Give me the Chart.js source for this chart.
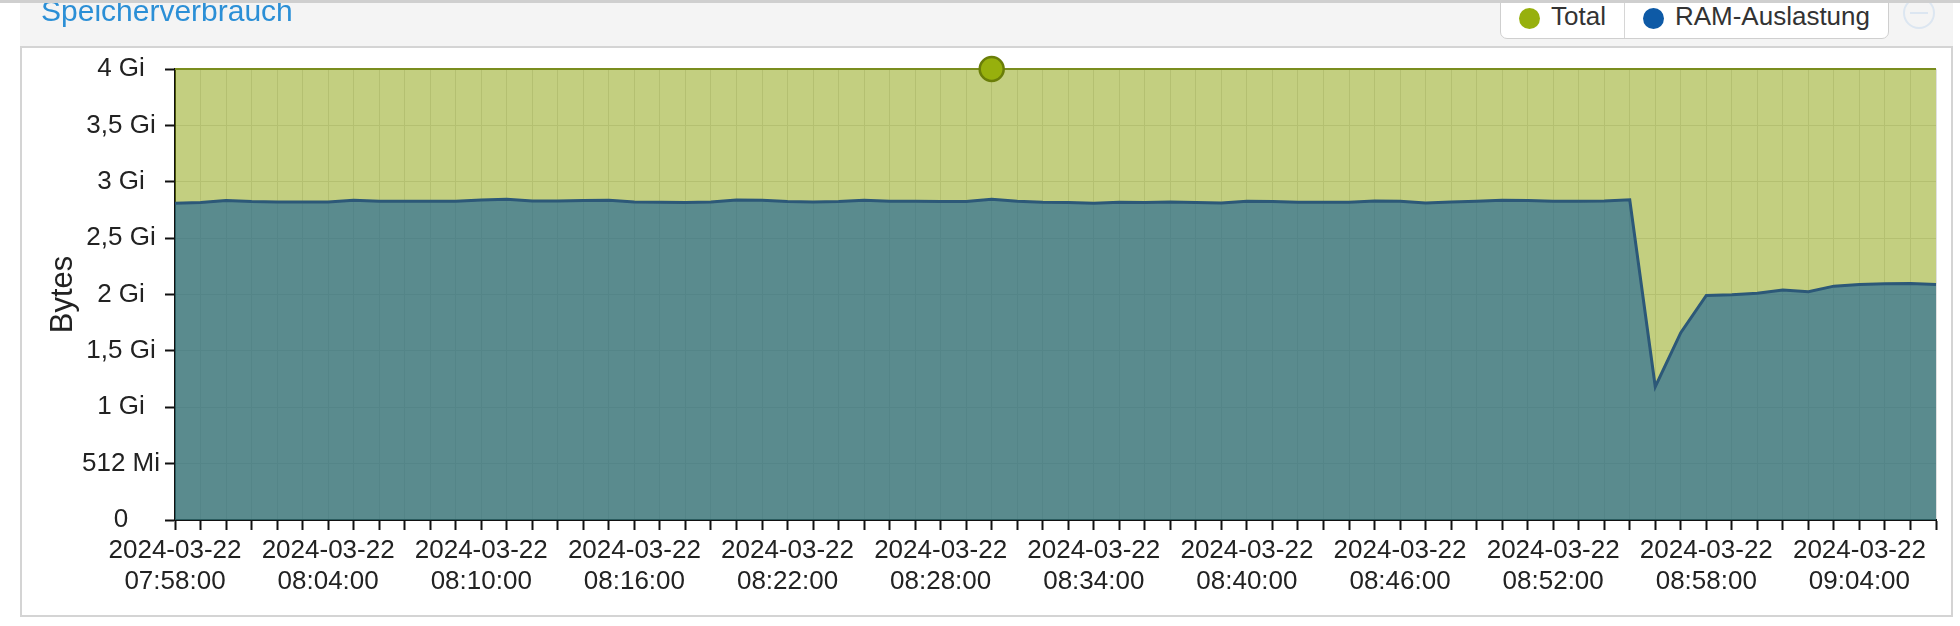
<!DOCTYPE html>
<html>
<head>
<meta charset="utf-8">
<script src="https://cdn.jsdelivr.net/npm/chart.js@4.4.1/dist/chart.umd.min.js"></script>
<style>
  html, body { margin: 0; padding: 0; width: 1960px; height: 626px; overflow: hidden; background: #fff; font-family: "Liberation Sans", Arial, sans-serif; }
  #topline { position: absolute; left: 0; top: 0; width: 1960px; height: 3px; background: #cfcfcf; z-index: 3; }
  #header { position: absolute; left: 20px; top: 3px; width: 1933px; height: 44px; background: #f4f4f4; }
  #title { position: absolute; left: 41px; top: -6px; font-size: 30px; line-height: 34px; color: #2b8fd6; white-space: nowrap; z-index: 2; }
  #panel { position: absolute; left: 20px; top: 46px; width: 1929px; height: 567px; border: 2px solid #d4d4d4; background: #fff; }
  #legend { position: absolute; left: 1500px; top: -8px; height: 45px; display: flex; background: #fff; border: 1.5px solid #cfcfcf; border-radius: 0 0 7px 7px; z-index: 2; }
  .item { display: flex; align-items: center; padding: 2px 18px 0 18px; font-size: 26px; color: #333; height: 100%; box-sizing: border-box; }
  .item + .item { border-left: 1.5px solid #d6d6d6; }
  .dot { width: 21px; height: 21px; border-radius: 50%; margin-right: 11px; margin-top: 4px; }
  #minus { position: absolute; left: 1903px; top: -3px; width: 28px; height: 28px; border: 2px solid #dce6f1; border-radius: 50%; z-index: 2; }
  #minus::after { content: ""; position: absolute; left: 5px; right: 5px; top: 13px; height: 2px; background: #dce6f1; }
  canvas { position: absolute; left: 0; top: 0; }
</style>
</head>
<body>
<div id="header"></div>
<div id="topline"></div>
<div id="title">Speicherverbrauch</div>
<div id="legend"></div>
<div id="minus"></div>
<div id="panel"></div>
<canvas id="chart" width="1960" height="626"></canvas>
<script>
// one sample per minute, 07:58 - 09:07
const dateLabel = '2024-03-22';
const categories = [
  '07:58:00', '07:59:00', '08:00:00', '08:01:00', '08:02:00', '08:03:00', '08:04:00', '08:05:00', '08:06:00', '08:07:00',
  '08:08:00', '08:09:00', '08:10:00', '08:11:00', '08:12:00', '08:13:00', '08:14:00', '08:15:00', '08:16:00', '08:17:00',
  '08:18:00', '08:19:00', '08:20:00', '08:21:00', '08:22:00', '08:23:00', '08:24:00', '08:25:00', '08:26:00', '08:27:00',
  '08:28:00', '08:29:00', '08:30:00', '08:31:00', '08:32:00', '08:33:00', '08:34:00', '08:35:00', '08:36:00', '08:37:00',
  '08:38:00', '08:39:00', '08:40:00', '08:41:00', '08:42:00', '08:43:00', '08:44:00', '08:45:00', '08:46:00', '08:47:00',
  '08:48:00', '08:49:00', '08:50:00', '08:51:00', '08:52:00', '08:53:00', '08:54:00', '08:55:00', '08:56:00', '08:57:00',
  '08:58:00', '08:59:00', '09:00:00', '09:01:00', '09:02:00', '09:03:00', '09:04:00', '09:05:00', '09:06:00', '09:07:00'
];

// values in GiB
const totalValues = [
  4, 4, 4, 4, 4, 4, 4, 4, 4, 4,
  4, 4, 4, 4, 4, 4, 4, 4, 4, 4,
  4, 4, 4, 4, 4, 4, 4, 4, 4, 4,
  4, 4, 4, 4, 4, 4, 4, 4, 4, 4,
  4, 4, 4, 4, 4, 4, 4, 4, 4, 4,
  4, 4, 4, 4, 4, 4, 4, 4, 4, 4,
  4, 4, 4, 4, 4, 4, 4, 4, 4, 4
];
const ramValues = [
  2.809, 2.815, 2.833, 2.824, 2.821, 2.821, 2.821, 2.836, 2.827, 2.827,
  2.827, 2.827, 2.839, 2.844, 2.830, 2.830, 2.833, 2.836, 2.821, 2.818,
  2.815, 2.821, 2.839, 2.836, 2.824, 2.821, 2.824, 2.836, 2.827, 2.827,
  2.824, 2.824, 2.844, 2.827, 2.818, 2.815, 2.809, 2.818, 2.815, 2.821,
  2.815, 2.812, 2.827, 2.824, 2.818, 2.818, 2.818, 2.830, 2.827, 2.812,
  2.821, 2.827, 2.836, 2.833, 2.827, 2.827, 2.830, 2.840, 1.182, 1.661,
  1.991, 1.997, 2.012, 2.039, 2.024, 2.074, 2.089, 2.095, 2.098, 2.089
];

const yTickLabels = ['0', '512 Mi', '1 Gi', '1,5 Gi', '2 Gi', '2,5 Gi', '3 Gi', '3,5 Gi', '4 Gi'];
const seriesNames = ['Total', 'RAM-Auslastung'];
const highlightIndex = 32;
const labelEvery = 6;

const fontFamily = '"Liberation Sans", Arial, sans-serif';
const colors = {
  total: '#97b00d',
  totalFill: 'rgba(135, 159, 1, 0.5)',
  totalLine: '#7a8d1e',
  ram: '#0e5aa6',
  ramFill: 'rgba(20, 94, 151, 0.6)',
  ramLine: '#2c5878'
};

// html legend like the original dashboard
const legend = document.getElementById('legend');
[[seriesNames[0], colors.total], [seriesNames[1], colors.ram]].forEach(([name, c]) => {
  const item = document.createElement('div');
  item.className = 'item';
  item.innerHTML = '<span class="dot" style="background:' + c + '"></span><span>' + name + '</span>';
  legend.appendChild(item);
});

const ctx = document.getElementById('chart').getContext('2d');
new Chart(ctx, {
  type: 'line',
  data: {
    labels: categories,
    datasets: [
      {
        label: seriesNames[1],
        data: ramValues,
        borderColor: colors.ramLine,
        borderWidth: 3,
        backgroundColor: colors.ramFill,
        fill: 'origin',
        pointRadius: 0,
        tension: 0
      },
      {
        label: seriesNames[0],
        data: totalValues,
        borderColor: colors.totalLine,
        borderWidth: 2,
        backgroundColor: colors.totalFill,
        fill: 'origin',
        pointRadius: c => (c.dataIndex === highlightIndex ? 12 : 0),
        pointBackgroundColor: colors.total,
        pointBorderColor: '#6a7e08',
        pointBorderWidth: 2.5,
        clip: false,
        tension: 0
      }
    ]
  },
  options: {
    responsive: false,
    animation: false,
    devicePixelRatio: 1,
    layout: { padding: { left: 30, right: 24, top: 69, bottom: 0 } },
    plugins: {
      legend: { display: false },
      tooltip: { enabled: false }
    },
    scales: {
      x: {
        type: 'category',
        offset: false,
        grid: { color: '#e0e0e0', lineWidth: 1, tickColor: '#111', tickWidth: 2, tickLength: 10 },
        border: { color: '#111', width: 2 },
        ticks: {
          autoSkip: false,
          maxRotation: 0,
          minRotation: 0,
          padding: 5,
          color: '#222',
          font: { family: fontFamily, size: 26 },
          callback: (v, i) => (i % labelEvery === 0 ? [dateLabel, categories[i]] : '')
        },
        afterFit: s => { s.height = 106; }
      },
      y: {
        min: 0,
        max: 4,
        grid: { color: '#e0e0e0', lineWidth: 1, tickColor: '#111', tickWidth: 2, tickLength: 10 },
        border: { color: '#111', width: 2 },
        ticks: {
          stepSize: 0.5,
          crossAlign: 'center',
          padding: 5,
          color: '#222',
          font: { family: fontFamily, size: 26 },
          callback: (v, i) => yTickLabels[i]
        },
        title: {
          display: true,
          text: 'Bytes',
          color: '#222',
          font: { family: fontFamily, size: 31 },
          padding: { top: 15, bottom: 0 }
        },
        afterFit: s => { s.width = 145; }
      }
    }
  }
});
</script>
</body>
</html>
